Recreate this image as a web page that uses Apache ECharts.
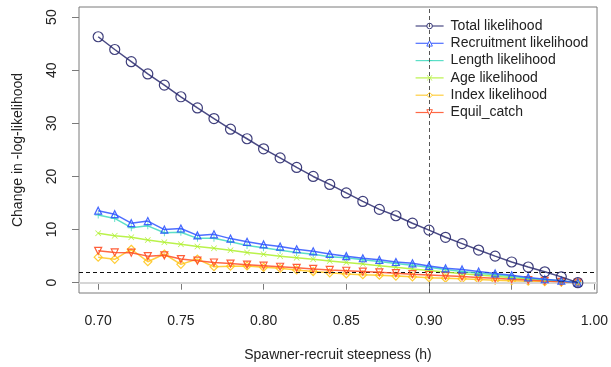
<!DOCTYPE html>
<html>
<head>
<meta charset="utf-8">
<script src="https://cdn.jsdelivr.net/npm/echarts@6/dist/echarts.min.js"></script>
<style>
  html, body { margin: 0; padding: 0; background: #fff; }
  #chart { width: 611px; height: 367px; }
</style>
</head>
<body>
<div id="chart"></div>
<script>
// steepness values along the x axis
var steepness = [0.70, 0.71, 0.72, 0.73, 0.74, 0.75, 0.76, 0.77, 0.78, 0.79,
                 0.80, 0.81, 0.82, 0.83, 0.84, 0.85, 0.86, 0.87, 0.88, 0.89,
                 0.90, 0.91, 0.92, 0.93, 0.94, 0.95, 0.96, 0.97, 0.98, 0.99];

// change in -log-likelihood, one array per component
var totalLik   = [46.3, 43.9, 41.6, 39.3, 37.2, 35.0, 32.9, 30.9, 28.9, 27.1,
                  25.2, 23.5, 21.7, 20.0, 18.5, 16.9, 15.3, 13.8, 12.6, 11.2,
                  9.9, 8.55, 7.35, 6.15, 5.0, 3.9, 2.95, 2.05, 1.1, 0];
var recruitLik = [13.55, 12.9, 11.2, 11.6, 10.0, 10.2, 8.9, 9.1, 8.3, 7.7,
                  7.2, 6.8, 6.3, 5.9, 5.4, 5.0, 4.6, 4.3, 3.9, 3.65,
                  3.15, 2.7, 2.5, 2.1, 1.75, 1.4, 1.0, 0.65, 0.38, 0];
var lengthLik  = [12.75, 12.1, 10.35, 10.7, 9.4, 9.5, 8.35, 8.35, 7.7, 7.0,
                  6.6, 6.1, 5.7, 5.35, 4.9, 4.7, 4.3, 4.0, 3.6, 3.3,
                  2.9, 2.5, 2.1, 1.8, 1.5, 1.2, 0.85, 0.6, 0.35, 0];
var ageLik     = [9.3, 8.85, 8.55, 8.05, 7.6, 7.25, 6.8, 6.5, 6.1, 5.7,
                  5.35, 5.0, 4.7, 4.4, 4.1, 3.8, 3.5, 3.2, 2.9, 2.6,
                  2.3, 2.0, 1.7, 1.45, 1.2, 0.95, 0.7, 0.45, 0.25, 0];
var indexLik   = [4.8, 4.4, 6.3, 3.95, 5.4, 3.45, 4.45, 3.0, 3.1, 3.15,
                  2.9, 2.7, 2.4, 2.1, 1.85, 1.65, 1.5, 1.4, 1.25, 1.1,
                  0.95, 0.85, 0.72, 0.6, 0.48, 0.38, 0.28, 0.18, 0.08, 0];
var equilCatch = [6.0, 5.7, 5.65, 5.0, 5.15, 4.45, 4.15, 3.8, 3.6, 3.4,
                  3.2, 3.0, 2.8, 2.6, 2.4, 2.25, 2.1, 1.95, 1.8, 1.6,
                  1.45, 1.3, 1.15, 0.98, 0.82, 0.66, 0.5, 0.34, 0.17, 0];

var seriesNames = ['Total likelihood', 'Recruitment likelihood', 'Length likelihood',
                   'Age likelihood', 'Index likelihood', 'Equil_catch'];
var seriesColors = ['#2a2a6e', '#2f55ff', '#3fd9bd', '#aef02c', '#ffc61e', '#ff4e24'];

// axis ticks
var xTicks = [0.70, 0.75, 0.80, 0.85, 0.90, 0.95, 1.00];
var yTicks = [0, 10, 20, 30, 40, 50];

// reference lines: chi-square cutoff and chosen steepness
var cutoffY = 1.92;
var chosenH = 0.90;

var FONT = '"Liberation Sans", Arial, sans-serif';

function pairs(ys) {
  var out = [];
  for (var i = 0; i < steepness.length; i++) {
    out.push([steepness[i], ys[i]]);
  }
  return out;
}

// symbols (R-like open markers)
var plusPath = 'path://M4.4,0H5.6V4.4H10V5.6H5.6V10H4.4V5.6H0V4.4H4.4Z';
var crossPath = 'path://M0.8,0L5,4.2L9.2,0L10,0.8L5.8,5L10,9.2L9.2,10L5,5.8L0.8,10L0,9.2L4.2,5L0,0.8Z';
var downTri = 'path://M0,0L10,0L5,8.7Z';
var symbols = ['circle', 'triangle', plusPath, crossPath, 'diamond', downTri];
var symbolSizes = [10, 7, 7, 6, 8, 7];
var filled = [false, false, true, true, false, false];

function emptyStyle(c) {
  return { color: 'rgba(255,255,255,0)', borderColor: c, borderWidth: 1.2, opacity: 0.9 };
}

var chart = echarts.init(document.getElementById('chart'));

var allData = [totalLik, recruitLik, lengthLik, ageLik, indexLik, equilCatch];
var zs = [8, 7, 6, 5, 4, 5];
var series = [];
var legendData = [];
for (var k = 0; k < seriesNames.length; k++) {
  var c = seriesColors[k];
  series.push({
    name: seriesNames[k],
    type: 'line',
    data: pairs(allData[k]),
    symbol: symbols[k],
    symbolSize: symbolSizes[k],
    showAllSymbol: true,
    z: zs[k],
    lineStyle: { color: c, width: 1.5, opacity: 0.85 },
    itemStyle: filled[k] ? { color: c, opacity: 0.9 } : emptyStyle(c),
    emphasis: { disabled: true }
  });
  legendData.push({
    name: seriesNames[k],
    itemStyle: filled[k] ? { color: c } : { color: '#fff', borderColor: c, borderWidth: 1 },
    lineStyle: { color: c, width: 1.2 }
  });
}

// reference lines hung on an empty series
series.push({
  name: 'ref',
  type: 'line',
  data: [],
  silent: true,
  z: 1,
  markLine: {
    silent: true,
    symbol: 'none',
    label: { show: false },
    emphasis: { disabled: true },
    data: [
      { yAxis: 0, lineStyle: { color: '#d6d6d6', width: 2, type: 'solid' } },
      { yAxis: cutoffY, lineStyle: { color: '#111', width: 1, type: [4, 3] } },
      { xAxis: chosenH, lineStyle: { color: '#555', width: 1, type: [4, 3] } }
    ]
  }
});

var option = {
  animation: false,
  textStyle: { fontFamily: FONT },
  grid: {
    left: 79, right: 12, top: 7, bottom: 74,
    show: true, borderColor: '#7a7a7a', borderWidth: 1, backgroundColor: 'transparent'
  },
  legend: {
    data: legendData,
    orient: 'vertical',
    left: 410,
    top: 13,
    itemWidth: 28,
    itemHeight: 7,
    itemGap: 1.3,
    textStyle: { fontFamily: FONT, fontSize: 14, color: '#222', lineHeight: 16, padding: [0, 0, 0, 2] },
    selectedMode: false
  },
  xAxis: {
    type: 'value',
    min: 0.6884,
    max: 1.0016,
    name: 'Spawner-recruit steepness (h)',
    nameLocation: 'middle',
    nameGap: 55,
    nameTextStyle: { fontFamily: FONT, fontSize: 14, color: '#222' },
    axisLine: { show: false },
    axisTick: { show: true, length: 7, customValues: xTicks, lineStyle: { color: '#7a7a7a' } },
    axisLabel: {
      customValues: xTicks,
      fontSize: 14, color: '#222', margin: 21,
      formatter: function (v) { return v.toFixed(2); }
    },
    splitLine: { show: false }
  },
  yAxis: {
    type: 'value',
    min: -1.94,
    max: 51.9,
    name: 'Change in -log-likelihood',
    nameLocation: 'middle',
    nameGap: 54,
    nameTextStyle: { fontFamily: FONT, fontSize: 14, color: '#222' },
    axisLine: { show: false },
    axisTick: { show: true, length: 7, customValues: yTicks, lineStyle: { color: '#7a7a7a' } },
    axisLabel: {
      customValues: yTicks,
      rotate: 90,
      fontSize: 14, color: '#222', margin: 20
    },
    splitLine: { show: false }
  },
  series: series
};

chart.setOption(option);
</script>
</body>
</html>
